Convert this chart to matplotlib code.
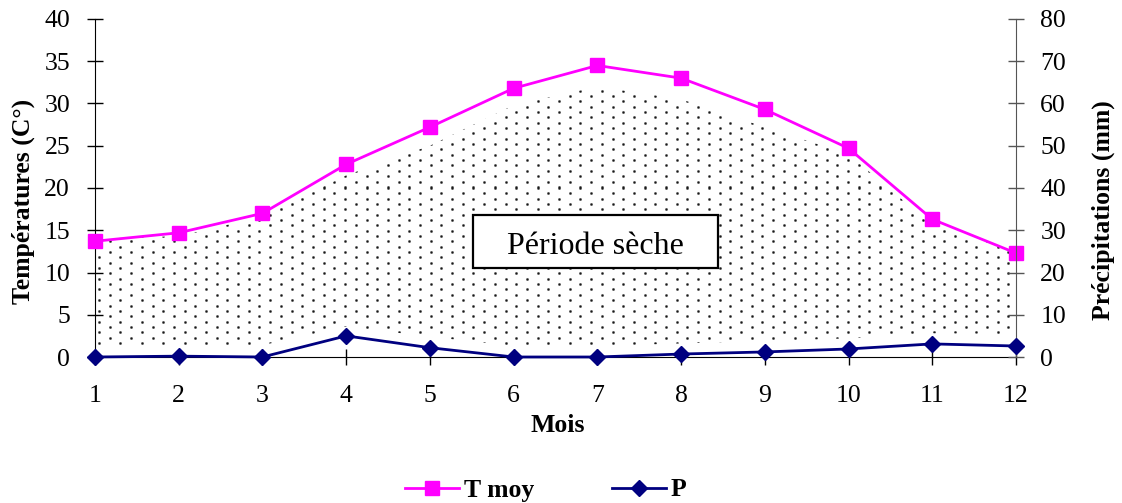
import matplotlib
matplotlib.use("Agg")
import matplotlib.pyplot as plt
from matplotlib.lines import Line2D
from matplotlib.patches import Rectangle
import numpy as np

months = [1, 2, 3, 4, 5, 6, 7, 8, 9, 10, 11, 12]
t_moy = [13.7, 14.7, 17.0, 22.8, 27.2, 31.8, 34.5, 33.0, 29.3, 24.7, 16.3, 12.3]
precip = [0.0, 0.2, 0.0, 5.0, 2.2, 0.0, 0.0, 0.7, 1.2, 1.9, 3.1, 2.6]
# dry-period shaded envelope (temperature scale)
dry_high = [14.0, 14.3, 16.6, 21.5, 25.0, 29.8, 32.0, 30.5, 27.2, 24.0, 15.6, 12.6]
dry_low = [1.3, 1.3, 1.4, 3.6, 2.4, 1.3, 1.3, 1.6, 1.9, 2.2, 2.8, 2.7]
t_ticks = [0, 5, 10, 15, 20, 25, 30, 35, 40]
p_ticks = [0, 10, 20, 30, 40, 50, 60, 70, 80]

plt.rcParams['font.family'] = ['Liberation Serif', 'DejaVu Serif']

W, H = 1122, 503
fig = plt.figure(figsize=(W / 100, H / 100), dpi=100)
AX_L, AX_R, AX_T, AX_B = 95, 1016, 19, 357
ax = fig.add_axes([AX_L / W, (H - AX_B) / H, (AX_R - AX_L) / W, (AX_B - AX_T) / H])
ax2 = ax.twinx()

ax.set_xlim(1, 12)
ax.set_ylim(0, 40)
ax2.set_ylim(0, 80)

# dry-period region: white fill + dotted texture clipped to it
poly = ax.fill_between(months, dry_low, dry_high, facecolor='white', edgecolor='none',
                       linewidth=0, zorder=1)
pw, ph = AX_R - AX_L, AX_B - AX_T
tex = np.zeros((ph, pw, 4))
tex[..., :3] = 0.1
kernel = np.array([[0.35, 0.7, 0.35], [0.7, 1.0, 0.7], [0.35, 0.7, 0.35]])
period = 10.7
ncol = int(pw / period) + 2
nrow = int(ph / period) + 2
for k in range(ncol):
    cx = int(round(4 + k * period))
    for j in range(nrow):
        cy = int(round(3 + j * period + (k % 2) * period / 2))
        for dy in (-1, 0, 1):
            for dx in (-1, 0, 1):
                yy, xx = cy + dy, cx + dx
                if 0 <= yy < ph and 0 <= xx < pw:
                    tex[yy, xx, 3] = max(tex[yy, xx, 3], kernel[dy + 1, dx + 1])
im = ax.imshow(tex, extent=(1, 12, 0, 40), aspect='auto', interpolation='nearest',
               origin='upper', zorder=2)
im.set_clip_path(poly.get_paths()[0], ax.transData)
ax.set_xlim(1, 12)
ax.set_ylim(0, 40)

ax.plot(months, t_moy, color='#FF00FF', lw=2.0, marker='s', ms=9.5, zorder=3, clip_on=False)
ax2.plot(months, precip, color='#000080', lw=2.0, marker='D', ms=8, zorder=3, clip_on=False)

ax.set_xticks(months)
ax.set_yticks(t_ticks)
ax2.set_yticks(p_ticks)

for a in (ax, ax2):
    a.spines['top'].set_visible(False)
ax.spines['right'].set_visible(False)
ax2.spines['left'].set_visible(False)
ax2.spines['bottom'].set_visible(False)
ax2.spines['right'].set_color('#555555')

fs = 18.5
ax.tick_params(axis='x', direction='inout', length=11, width=1, labelsize=fs, pad=14.5)
ax.tick_params(axis='y', direction='inout', length=11, width=1, labelsize=fs, pad=12.5)
ax2.tick_params(axis='y', direction='inout', length=11, width=1, labelsize=fs, pad=12,
                color='#555555')

fig.text(23 / W, (H - 201) / H, 'Températures (C°)', rotation=90, ha='center', va='center',
         fontsize=fs, fontweight='bold')
fig.text(1103 / W, (H - 210) / H, 'Précipitations (mm)', rotation=90, ha='center', va='center',
         fontsize=fs, fontweight='bold')
fig.text(558 / W, (H - 425) / H, 'Mois', ha='center', va='center', fontsize=fs, fontweight='bold')

fig.patches.append(Rectangle((473 / W, (H - 268) / H), 245 / W, 53 / H, transform=fig.transFigure,
                             facecolor='white', edgecolor='black', linewidth=1.6, zorder=4))
fig.text(595.5 / W, (H - 254) / H, 'Période sèche', ha='center', va='baseline', fontsize=23,
         zorder=5)

handles = [Line2D([], [], color='#FF00FF', lw=2.0, marker='s', ms=9.5),
           Line2D([], [], color='#000080', lw=2.0, marker='D', ms=8)]
fig.legend(handles, ['T moy', 'P'], loc='center', bbox_to_anchor=(546 / W, (H - 490) / H),
           ncol=2, frameon=False, prop={'size': fs, 'weight': 'bold'},
           handlelength=2.1, handletextpad=0.2, columnspacing=3.0)

fig.savefig('out.png', dpi=100)
